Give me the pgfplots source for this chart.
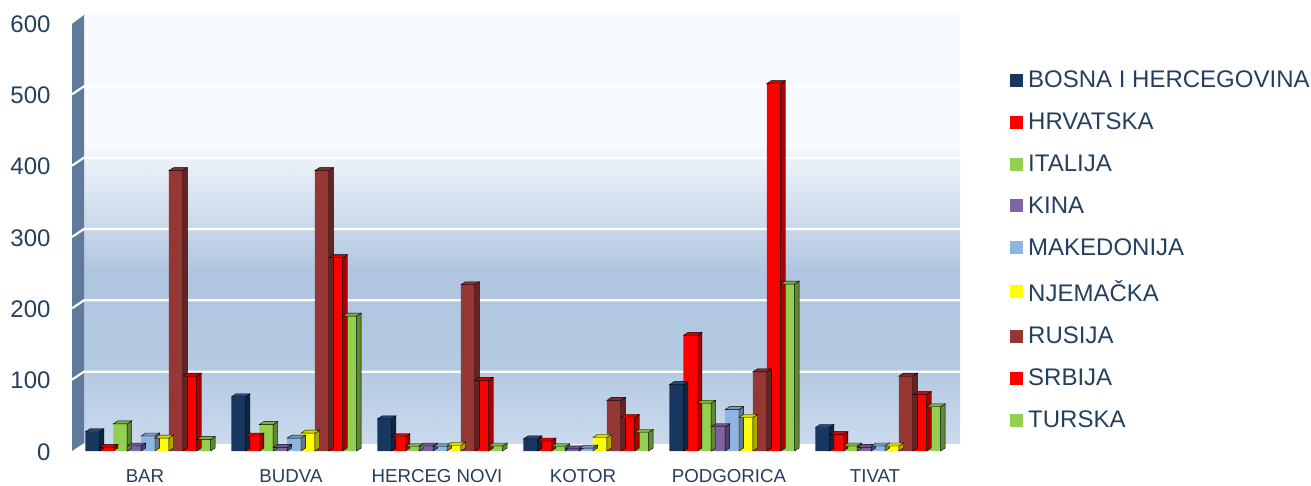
\documentclass[border=0pt]{standalone}
\usepackage{pgfplots}
\usepackage{pgfplotstable}
\usepackage{fontspec}
\setmainfont{Liberation Sans}
\pgfplotsset{compat=1.18}
\definecolor{txt}{HTML}{24405F}
\definecolor{cBlue}{HTML}{17375E}\definecolor{cBlueS}{HTML}{0F2540}\definecolor{cBlueT}{HTML}{1F4A7D}
\definecolor{cRed}{HTML}{FF0000}\definecolor{cRedS}{HTML}{AA0000}\definecolor{cRedT}{HTML}{D90000}
\definecolor{cGreen}{HTML}{92D050}\definecolor{cGreenS}{HTML}{5F8A33}\definecolor{cGreenT}{HTML}{7CB043}
\definecolor{cPurple}{HTML}{8064A2}\definecolor{cPurpleS}{HTML}{55436C}\definecolor{cPurpleT}{HTML}{6D5589}
\definecolor{cLt}{HTML}{8DB4E2}\definecolor{cLtS}{HTML}{5E7896}\definecolor{cLtT}{HTML}{7899C0}
\definecolor{cYel}{HTML}{FFFF00}\definecolor{cYelS}{HTML}{AAAA00}\definecolor{cYelT}{HTML}{D9D900}
\definecolor{cBrn}{HTML}{953735}\definecolor{cBrnS}{HTML}{632523}\definecolor{cBrnT}{HTML}{7F2F2D}
\definecolor{w1}{HTML}{F7FBFF}\definecolor{w2}{HTML}{ECF1F8}\definecolor{w3}{HTML}{C9D8EA}\definecolor{w4}{HTML}{B0C6E0}\definecolor{w5}{HTML}{B4C9E2}\definecolor{w6}{HTML}{CADAED}
\definecolor{wallc}{HTML}{5F7A9B}
\pgfplotstableread{
BIH HR IT KINA MK DE RU SR TR
27 5 38 7 21 18 393 105 16
76 21 37 5 18 25 393 271 189
45 20 6 7 6 8 233 99 7
17 14 6 3 4 19 71 47 26
93 162 67 34 58 47 111 515 234
33 23 7 5 7 7 105 79 62
}\datatable
\newcommand{\series}[5]{%
 \addplot[forget plot, only marks, mark=*, mark size=0pt, mark options={draw=none,fill=none},
   scatter, visualization depends on={rawy \as \rawval},
   scatter/@pre marker code/.code={\scope
     \pgfmathsetmacro\hh{\rawval*0.71333}
     \path[fill=#3] ({(#5)*13.9pt+9.95pt},0pt) -- ++(4.6pt,3pt) -- ++(0pt,-\hh pt) -- ++(-4.6pt,-3pt) -- cycle;
     \path[fill=#4] ({(#5)*13.9pt-3.95pt},0pt) -- ++(4.6pt,3pt) -- ++(13.9pt,0pt) -- ++(-4.6pt,-3pt) -- cycle;
   },
   scatter/@post marker code/.code={\endscope}
 ] table[x expr=\coordindex, y=#1] {\datatable};
 \addplot[ybar, bar width=13.9pt, bar shift={(#5)*13.9pt+3pt}, fill=#2, draw=none,
   legend image code/.code={
     \path[fill=none,draw=none] (0pt,0pt) rectangle (16pt,1pt);
     \path[fill=#2] (0pt,-6.5pt) rectangle (13pt,6.5pt);}
 ] table[x expr=\coordindex, y=#1] {\datatable};
}
\begin{document}
\begin{tikzpicture}[x=1pt,y=1pt]
\useasboundingbox (0,0) rectangle (1311,485);
% back wall (y from the bottom of the picture)
\shade[top color=w1,bottom color=w1] (84,340) rectangle (960,470);
\shade[top color=w1,bottom color=w2] (84,326) rectangle (960,340);
\shade[top color=w2,bottom color=w3] (84,257) rectangle (960,326);
\shade[top color=w3,bottom color=w4] (84,215) rectangle (960,257);
\shade[top color=w4,bottom color=w5] (84,115) rectangle (960,215);
\shade[top color=w5,bottom color=w6] (84,42) rectangle (960,115);
\fill[wallc] (72,34) -- (84,42) -- (84,470) -- (72,461) -- cycle;
\foreach \v in {100,200,300,400,500}{
  \pgfmathsetmacro\yy{42+\v*0.71333}
  \draw[white,line width=2.2pt] (72,\yy-8) -- (84,\yy) -- (960,\yy);
}
\begin{axis}[at={(72pt,34pt)},anchor=south west,scale only axis,width=876pt,height=428pt,
  xmin=-0.5,xmax=5.5,ymin=0,ymax=600,clip=false,
  axis line style={draw=none},major tick length=0pt,
  xtick={0,...,5},xticklabels={BAR,BUDVA,HERCEG NOVI,KOTOR,PODGORICA,TIVAT},
  ytick={0,100,...,600},
  /pgf/number format/assume math mode=true,
  tick label style={text=txt},
  yticklabel style={font=\fontsize{24}{26}\selectfont,xshift=-18pt,yshift=-1pt},
  xticklabel style={font=\fontsize{18.7}{20}\selectfont,yshift=-15pt},
  legend style={draw=none,fill=none,at={(938pt,382pt)},anchor=north west,
    font=\fontsize{24}{26}\selectfont,text=txt,row sep=19.75pt,
    inner sep=0pt},
  legend cell align=left,
]
\series{BIH}{cBlue}{cBlueS}{cBlueT}{-4}
\series{HR}{cRed}{cRedS}{cRedT}{-3}
\series{IT}{cGreen}{cGreenS}{cGreenT}{-2}
\series{KINA}{cPurple}{cPurpleS}{cPurpleT}{-1}
\series{MK}{cLt}{cLtS}{cLtT}{0}
\series{DE}{cYel}{cYelS}{cYelT}{1}
\series{RU}{cBrn}{cBrnS}{cBrnT}{2}
\series{SR}{cRed}{cRedS}{cRedT}{3}
\series{TR}{cGreen}{cGreenS}{cGreenT}{4}
\legend{BOSNA I HERCEGOVINA,HRVATSKA,ITALIJA,KINA,MAKEDONIJA,NJEMAČKA,RUSIJA,SRBIJA,TURSKA}
\end{axis}
\end{tikzpicture}
\end{document}
